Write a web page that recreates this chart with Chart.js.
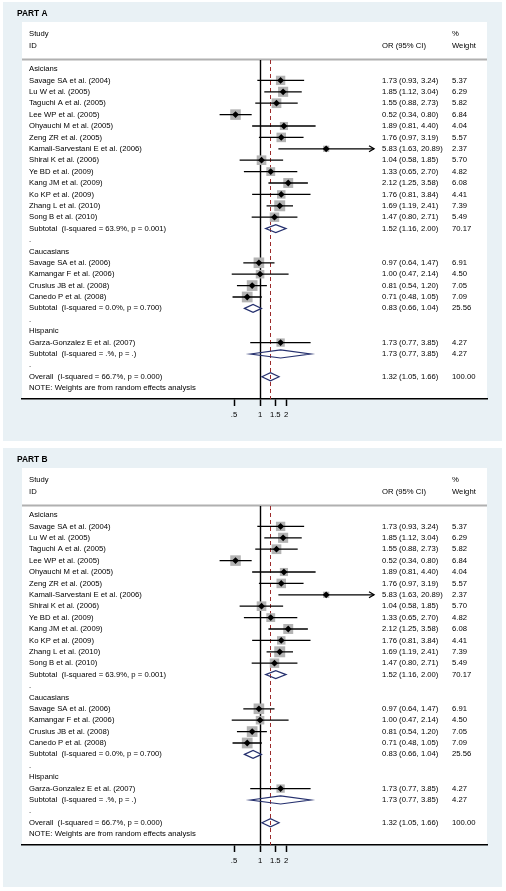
<!DOCTYPE html>
<html>
<head>
<meta charset="utf-8">
<script src="https://cdn.jsdelivr.net/npm/chart.js@4.4.1/dist/chart.umd.min.js"></script>
<style>
body { margin: 0; background: #fff; width: 506px; height: 891px; overflow: hidden; position: relative; }
canvas { position: absolute; left: 0; display: block; }
#partA { top: 0; }
#partB { top: 446px; }
</style>
</head>
<body>
<canvas id="partA" width="506" height="445"></canvas>
<canvas id="partB" width="506" height="445"></canvas>
<script>
// forest plot rows, top to bottom (both parts show the same table)
const rowLabels = [
    'Asicians',
    'Savage SA et al. (2004)',
    'Lu W et al. (2005)',
    'Taguchi A et al. (2005)',
    'Lee WP et al. (2005)',
    'Ohyauchi M et al. (2005)',
    'Zeng ZR et al. (2005)',
    'Kamali-Sarvestani E et al. (2006)',
    'Shirai K et al. (2006)',
    'Ye BD et al. (2009)',
    'Kang JM et al. (2009)',
    'Ko KP et al. (2009)',
    'Zhang L et al. (2010)',
    'Song B et al. (2010)',
    'Subtotal  (I-squared = 63.9%, p = 0.001)',
    '.',
    'Caucasians',
    'Savage SA et al. (2006)',
    'Kamangar F et al. (2006)',
    'Crusius JB et al. (2008)',
    'Canedo P et al. (2008)',
    'Subtotal  (I-squared = 0.0%, p = 0.700)',
    '.',
    'Hispanic',
    'Garza-Gonzalez E et al. (2007)',
    'Subtotal  (I-squared = .%, p = .)',
    '.',
    'Overall  (I-squared = 66.7%, p = 0.000)',
    'NOTE: Weights are from random effects analysis'
]
const orVals  = [null,1.73,1.85,1.55,0.52,1.89,1.76,5.83,1.04,1.33,2.12,1.76,1.69,1.47,1.52,null,null,0.97,1.00,0.81,0.71,0.83,null,null,1.73,1.73,null,1.32,null]
const loVals  = [null,0.93,1.12,0.88,0.34,0.81,0.97,1.63,0.58,0.65,1.25,0.81,1.19,0.80,1.16,null,null,0.64,0.47,0.54,0.48,0.66,null,null,0.77,0.77,null,1.05,null]
const hiVals  = [null,3.24,3.04,2.73,0.80,4.40,3.19,20.89,1.85,2.70,3.58,3.84,2.41,2.71,2.00,null,null,1.47,2.14,1.20,1.05,1.04,null,null,3.85,3.85,null,1.66,null]
const weights = [null,5.37,6.29,5.82,6.84,4.04,5.57,2.37,5.70,4.82,6.08,4.41,7.39,5.49,70.17,null,null,6.91,4.50,7.05,7.09,25.56,null,null,4.27,4.27,null,100.00,null]
const pooledRows = [14, 21, 25, 27]
const overallRow = 27
const xTicks = [0.5, 1, 1.5, 2]
const xTickLabels = ['.5', '1', '1.5', '2']
const partTitles = ['PART A', 'PART B']

const FONT = '"Liberation Sans", Arial, sans-serif'
const FS = 7.7
const arrowFrom = 10 // CI upper ends beyond this get an arrow

const studyRows = rowLabels.map((_, i) => i).filter(i => orVals[i] != null && !pooledRows.includes(i))

const forestPlugin = (title) => ({
    id: 'forest',
    beforeDraw(chart) {
        const c = chart.ctx
        const area = chart.chartArea
        c.save()
        c.fillStyle = '#e9f1f5'
        c.fillRect(3, 2, 499, 439)
        c.fillStyle = '#fff'
        c.fillRect(22, 22, 465, area.bottom - 22)
        c.strokeStyle = '#b0b0b0'
        c.lineWidth = 2
        c.beginPath()
        c.moveTo(22, 59.5)
        c.lineTo(487, 59.5)
        c.stroke()
        c.restore()
    },
    beforeDatasetsDraw(chart) {
        const c = chart.ctx
        const x = chart.scales.x
        const area = chart.chartArea
        c.save()
        // line of no effect
        const x1 = Math.round(x.getPixelForValue(1)) + 0.5
        c.strokeStyle = '#000'
        c.lineWidth = 1.4
        c.beginPath()
        c.moveTo(x1, area.top)
        c.lineTo(x1, area.bottom)
        c.stroke()
        // overall estimate
        const xo = Math.round(x.getPixelForValue(orVals[overallRow])) + 0.5
        c.strokeStyle = '#9b2a2a'
        c.lineWidth = 1
        c.setLineDash([4, 3])
        c.beginPath()
        c.moveTo(xo, area.top)
        c.lineTo(xo, area.bottom)
        c.stroke()
        c.restore()
    },
    afterDatasetsDraw(chart) {
        const c = chart.ctx
        const x = chart.scales.x
        const y = chart.scales.y
        c.save()
        // pooled estimates as hollow diamonds
        c.strokeStyle = '#25306e'
        c.lineWidth = 1.2
        pooledRows.forEach(i => {
            const yy = y.getPixelForValue(i)
            const xl = x.getPixelForValue(loVals[i])
            const xm = x.getPixelForValue(orVals[i])
            const xh = x.getPixelForValue(hiVals[i])
            c.beginPath()
            c.moveTo(xl, yy)
            c.lineTo(xm, yy - 4)
            c.lineTo(xh, yy)
            c.lineTo(xm, yy + 4)
            c.closePath()
            c.stroke()
        })
        // arrows for long intervals
        c.strokeStyle = '#000'
        c.lineWidth = 1.3
        studyRows.filter(i => hiVals[i] > arrowFrom).forEach(i => {
            const yy = y.getPixelForValue(i)
            const xh = x.getPixelForValue(hiVals[i])
            c.beginPath()
            c.moveTo(xh - 5, yy - 3)
            c.lineTo(xh, yy)
            c.lineTo(xh - 5, yy + 3)
            c.stroke()
        })
        c.restore()
    },
    afterDraw(chart) {
        const c = chart.ctx
        const y = chart.scales.y
        c.save()
        c.fillStyle = '#000'
        c.textBaseline = 'middle'
        c.font = 'bold 8.4px ' + FONT
        c.fillText(title, 17, 14)
        c.font = FS + 'px ' + FONT
        c.fillText('Study', 29, 34)
        c.fillText('ID', 29, 46)
        c.fillText('OR (95% CI)', 382, 46)
        c.fillText('%', 452, 34)
        c.fillText('Weight', 452, 46)
        rowLabels.forEach((lab, i) => {
            const yy = y.getPixelForValue(i)
            c.fillText(lab, 29, yy)
            if (orVals[i] != null) {
                c.fillText(orVals[i].toFixed(2) + ' (' + loVals[i].toFixed(2) + ', ' + hiVals[i].toFixed(2) + ')', 382, yy)
                c.fillText(weights[i].toFixed(2), 452, yy)
            }
        })
        c.restore()
    }
})

const makeChart = (id, title) => {
    const ctx = document.getElementById(id).getContext('2d')
    const data = {
        datasets: [
            {
                type: 'scatter',
                data: studyRows.map(i => ({ x: orVals[i], y: i })),
                pointStyle: 'rectRot',
                pointRadius: 3.4,
                backgroundColor: '#000',
                borderWidth: 0,
                order: 0,
            },
            {
                type: 'line',
                data: studyRows.flatMap(i => [
                    { x: loVals[i], y: i },
                    { x: hiVals[i], y: i },
                    { x: hiVals[i], y: null },
                ]),
                borderColor: '#000',
                borderWidth: 1.3,
                pointRadius: 0,
                fill: false,
                spanGaps: false,
                order: 1,
            },
            {
                type: 'scatter',
                data: studyRows.map(i => ({ x: orVals[i], y: i })),
                pointStyle: 'rect',
                pointRadius: (c) => 2.85 * Math.sqrt(weights[c.raw.y]),
                backgroundColor: '#b3b3b3',
                borderWidth: 0,
                order: 2,
            },
        ],
    }
    const config = {
        type: 'scatter',
        data: data,
        options: {
            responsive: false,
            animation: false,
            events: [],
            layout: {
                padding: { left: 22, right: 19, top: 60, bottom: 26 },
                autoPadding: false,
            },
            plugins: {
                legend: { display: false },
                tooltip: { enabled: false },
            },
            scales: {
                x: {
                    type: 'logarithmic',
                    min: 0.00175,
                    max: 425,
                    afterBuildTicks: (s) => { s.ticks = xTicks.map(v => ({ value: v })) },
                    afterFit: (s) => { s.height = 20 },
                    ticks: {
                        autoSkip: false,
                        maxRotation: 0,
                        padding: 4,
                        color: '#000',
                        font: { family: FONT, size: FS },
                        callback: (v, i) => xTickLabels[i],
                    },
                    grid: {
                        drawOnChartArea: false,
                        drawTicks: true,
                        tickLength: 7,
                        tickColor: '#000',
                        tickWidth: 1.5,
                    },
                    border: { display: true, color: '#000', width: 1.5 },
                },
                y: {
                    type: 'linear',
                    display: false,
                    reverse: true,
                    min: -0.79,
                    max: 28.95,
                },
            },
        },
        plugins: [forestPlugin(title)],
    }
    return new Chart(ctx, config)
}

const chartA = makeChart('partA', partTitles[0])
const chartB = makeChart('partB', partTitles[1])
</script>
</body>
</html>
